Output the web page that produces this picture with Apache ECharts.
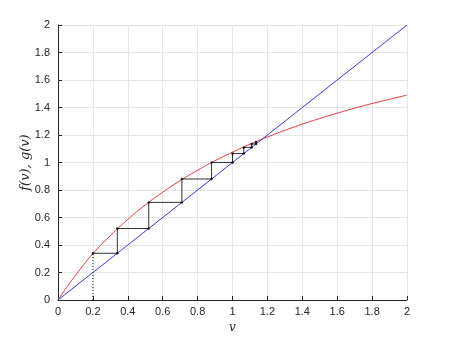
<!DOCTYPE html>
<html><head><meta charset="utf-8">
<script src="https://cdn.jsdelivr.net/npm/echarts@6/dist/echarts.min.js"></script>
<style>html,body{margin:0;padding:0;background:#fff}#c{width:450px;height:338px}</style>
</head><body><div id="c"></div>
<script>
var vValues = [0,0.05,0.1,0.2,0.3,0.4,0.5,0.6,0.7,0.8,0.9,1.0,1.1,1.2,1.3,1.4,1.5,1.6,1.7,1.8,1.9,2.0];
var fValues = [0,0.093,0.179,0.337,0.468,0.586,0.691,0.784,0.868,0.944,1.013,1.075,1.133,1.185,1.234,1.279,1.320,1.359,1.395,1.429,1.460,1.490];
var gValues = [0,2];
var gV = [0,2];
var startV = 0.2;
var iterates = [0.34,0.52,0.71,0.88,1.0,1.065,1.11,1.135,1.15];
var ticks = [0,0.2,0.4,0.6,0.8,1,1.2,1.4,1.6,1.8,2];

var curve = vValues.map(function(v,i){return [v,fValues[i]];});
var line = gV.map(function(v,i){return [v,gValues[i]];});
var web = [[startV, iterates[0]]];
var dots = [[startV, iterates[0]]];
for (var i=0;i<iterates.length-1;i++){
  web.push([iterates[i], iterates[i]]);
  web.push([iterates[i], iterates[i+1]]);
  dots.push([iterates[i], iterates[i]]);
  dots.push([iterates[i], iterates[i+1]]);
}
var axisCommon = {
  min:0,max:2,interval:0.2,
  axisLine:{show:true,onZero:false,lineStyle:{color:'#262626',width:1}},
  axisTick:{show:true,inside:true,length:4,lineStyle:{color:'#262626'}},
  axisLabel:{color:'#262626',fontFamily:'Liberation Sans, Arial',fontSize:11,
    formatter:function(v){return String(Math.round(v*10)/10);}},
  splitLine:{show:true,lineStyle:{color:'#e6e6e6',width:1}}
};
var chart = echarts.init(document.getElementById('c'));
chart.setOption({
  animation:false,
  grid:{left:58,right:43,top:25,bottom:38,containLabel:false,outerBoundsMode:'none'},
  xAxis:Object.assign({type:'value',name:'v',nameLocation:'middle',nameGap:22,
    nameTextStyle:{fontFamily:'DejaVu Serif',fontStyle:'italic',fontSize:12,color:'#262626'}},axisCommon,
    {axisLabel:Object.assign({},axisCommon.axisLabel,{margin:6})}),
  yAxis:Object.assign({type:'value',name:'f(v), g(v)',nameLocation:'middle',nameGap:26,nameMoveOverlap:false,
    nameTextStyle:{fontFamily:'DejaVu Serif',fontStyle:'italic',fontSize:13,color:'#262626'}},axisCommon,
    {axisLabel:Object.assign({},axisCommon.axisLabel,{margin:8})}),
  series:[
    {type:'line',data:curve,smooth:true,showSymbol:false,lineStyle:{color:'#e8393a',width:1},z:2},
    {type:'line',data:line,showSymbol:false,lineStyle:{color:'#3a3ae0',width:1},z:2},
    {type:'line',data:[[startV,0],[startV,iterates[0]]],showSymbol:false,lineStyle:{color:'#222',width:1,type:[1,2]},z:3},
    {type:'line',data:web,showSymbol:false,lineStyle:{color:'#333',width:1},z:3},
    {type:'scatter',data:dots,symbolSize:2.5,itemStyle:{color:'#000'},z:4}
  ]
});
</script></body></html>
